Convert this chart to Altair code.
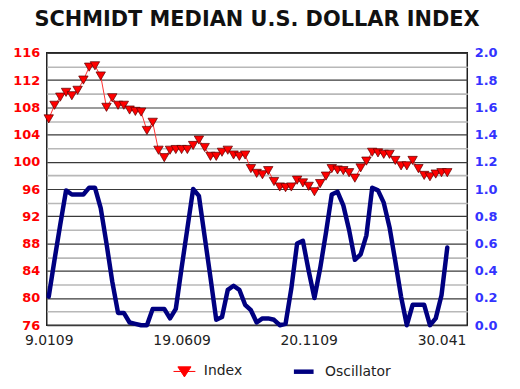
import altair as alt
import pandas as pd

# Weekly readings (Jan 2009 - May 2010)
index_values = [
    106.3, 108.3, 109.5, 110.2, 109.7, 110.5, 112.0, 113.9, 114.1, 112.6,
    108.0, 109.4, 108.3, 108.3, 107.6, 107.4, 107.3, 104.6, 105.8, 101.7,
    100.6, 101.7, 101.8, 101.8, 101.8, 102.4, 103.2, 102.1, 100.8, 100.8,
    101.4, 101.7, 101.0, 100.8, 101.0, 99.0, 98.3, 98.1, 98.7, 97.1,
    96.3, 96.2, 96.3, 97.3, 96.9, 96.4, 95.6, 96.8, 97.9, 99.0,
    98.8, 98.7, 98.4, 97.6, 99.1, 100.1, 101.4, 101.3, 101.1, 101.1,
    100.2, 99.4, 99.4, 100.2, 99.0, 98.0, 97.8, 98.2, 98.4, 98.4,
]
osc_values = [
    0.21, 0.48, 0.74, 0.99, 0.96, 0.96, 0.96, 1.01, 1.01, 0.86,
    0.60, 0.32, 0.09, 0.09, 0.02, 0.01, 0.00, 0.00, 0.12, 0.12,
    0.12, 0.05, 0.12, 0.42, 0.71, 1.00, 0.95, 0.65, 0.35, 0.04,
    0.06, 0.26, 0.29, 0.26, 0.15, 0.11, 0.02, 0.05, 0.05, 0.04,
    0.00, 0.01, 0.27, 0.60, 0.62, 0.40, 0.20, 0.42, 0.68, 0.96,
    0.98, 0.88, 0.70, 0.48, 0.52, 0.66, 1.01, 0.99, 0.90, 0.72,
    0.47, 0.21, 0.00, 0.15, 0.15, 0.15, 0.00, 0.05, 0.22, 0.57,
]
tick_positions = [0, 23, 45, 68]
tick_labels = ["9.0109", "19.0609", "20.1109", "30.041"]
left_ticks = [76, 78, 80, 82, 84, 86, 88, 90, 92, 94, 96, 98, 100,
              102, 104, 106, 108, 110, 112, 114, 116]
right_ticks = [0.0, 0.2, 0.4, 0.6, 0.8, 1.0, 1.2, 1.4, 1.6, 1.8, 2.0]
series_names = ["Index", "Oscillator"]
series_colors = ["#ff0000", "#000080"]

n = len(index_values)
df = pd.DataFrame({"week": list(range(n)), "index": index_values, "osc": osc_values})

label_map = "{" + ",".join(f'"{p}":"{l}"' for p, l in zip(tick_positions, tick_labels)) + "}"

FONT = "DejaVu Sans"

x_enc = alt.X(
    "week:Q",
    scale=alt.Scale(domain=[-0.34, 72.46], nice=False, zero=False),
    axis=alt.Axis(values=tick_positions, labelExpr=f"{label_map}[datum.value]",
                  title=None, grid=False, ticks=False, domain=False,
                  labelFont=FONT, labelFontSize=14, labelColor="#222222",
                  labelPadding=8, labelFlush=False, labelOverlap=False),
)

y_left = alt.Y(
    "index:Q",
    scale=alt.Scale(domain=[76, 116], nice=False, zero=False),
    axis=alt.Axis(orient="left", values=left_ticks,
                  labelExpr="datum.value % 4 == 0 ? datum.label : ''",
                  grid=True,
                  gridColor={"expr": "datum.value % 4 == 0 ? '#3a3a3a' : '#b8b8b8'"},
                  gridWidth={"expr": "datum.value % 4 == 0 ? 1.2 : 1.6"},
                  ticks=False, domain=False, title=None,
                  labelColor="#ff0000", labelFont=FONT, labelFontWeight="bold",
                  labelFontSize=13, labelPadding=7, labelOverlap=False),
)

y_right = alt.Y(
    "osc:Q",
    scale=alt.Scale(domain=[0, 2], nice=False, zero=False),
    axis=alt.Axis(orient="right", values=right_ticks, format=".1f",
                  grid=False, ticks=False, domain=False, title=None,
                  labelColor="#3333ff", labelFont=FONT, labelFontWeight="bold",
                  labelFontSize=13, labelPadding=7, labelOverlap=False),
)

base = alt.Chart(df)

osc_line = base.mark_line(color="#000080", strokeWidth=4.5, strokeJoin="round",
                          strokeCap="round").encode(x=x_enc, y=y_right)

idx_line = base.mark_line(color="#ff3030", strokeWidth=1).encode(x=x_enc, y=y_left)
idx_pts = base.mark_point(shape="triangle-down", filled=True, fill="#ff0000",
                          stroke="#5a0000", strokeWidth=0.7, size=90,
                          opacity=1).encode(x=x_enc, y=y_left)

tri_path = "M-1,0H1M-0.6,-0.42L0.6,-0.42L0,0.5Z"
line_path = "M-0.9,0H0.9"
leg = alt.Legend(title=None, orient="none", legendX=127, legendY=307,
                 direction="horizontal", symbolSize=484, labelFont=FONT,
                 labelFontSize=14, labelColor="#222222", columnPadding=42,
                 labelOffset=8, padding=0)
legend_layer = base.transform_calculate(series="'Index'").transform_filter("false").mark_point(
    filled=False, opacity=1
).encode(
    x=x_enc, y=y_left,
    color=alt.Color("series:N", scale=alt.Scale(domain=series_names, range=series_colors), legend=leg),
    fill=alt.Fill("series:N", scale=alt.Scale(domain=series_names, range=series_colors), legend=leg),
    shape=alt.Shape("series:N", scale=alt.Scale(domain=series_names, range=[tri_path, line_path]), legend=leg),
    strokeWidth=alt.StrokeWidth("series:N", scale=alt.Scale(domain=series_names, range=[1, 4.5]), legend=leg),
)

index_layer = alt.layer(idx_line, idx_pts, legend_layer)

chart = alt.layer(osc_line, index_layer).resolve_scale(y="independent").properties(
    width=423, height=274,
    autosize=alt.AutoSizeParams(type="none"),
    padding={"left": 39, "top": 44, "right": 45, "bottom": 54},
    title=alt.TitleParams("SCHMIDT MEDIAN U.S. DOLLAR INDEX", font=FONT, fontSize=21,
                          fontWeight="bold", color="#111111", anchor="middle", offset=17),
    background="white",
).configure_view(stroke="#202020", strokeWidth=1.5)

chart.save("out.html", embed_options={"renderer": "svg", "actions": False})
